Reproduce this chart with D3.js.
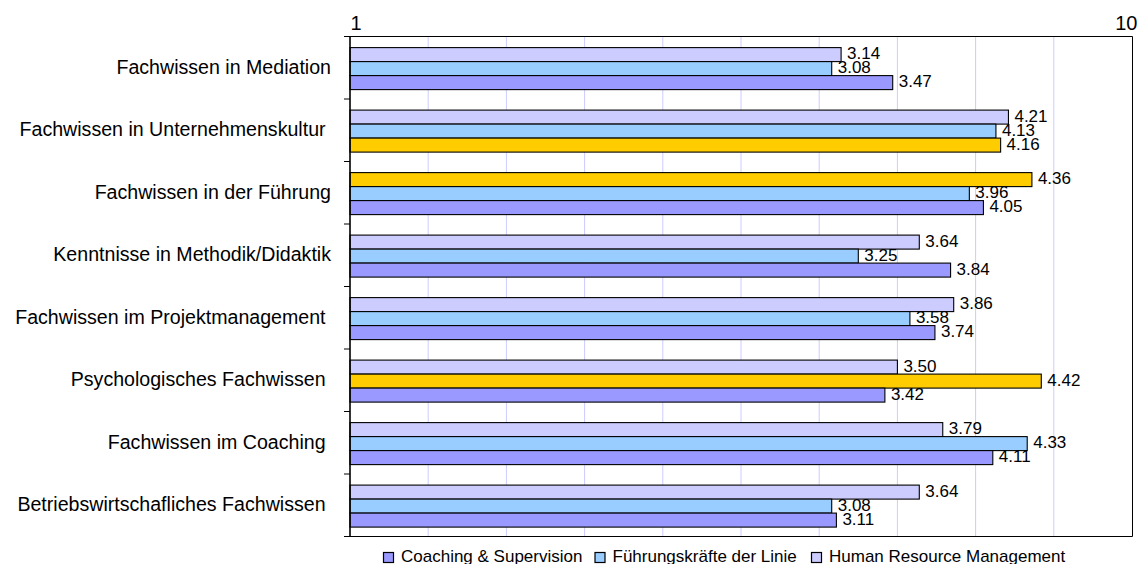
<!DOCTYPE html>
<html>
<head>
<meta charset="utf-8">
<script src="https://cdn.jsdelivr.net/npm/d3@7"></script>
<style>
  html, body { margin: 0; padding: 0; background: #fff; }
  svg { display: block; }
  text { font-family: "Liberation Sans", Arial, sans-serif; fill: #000; white-space: pre; }
</style>
</head>
<body>
<svg id="chart" width="1143" height="564"></svg>
<script>
// Competence areas, listed top to bottom (trailing spaces kept as in the source labels)
const categories = [
  "Fachwissen in Mediation",
  "Fachwissen in Unternehmenskultur ",
  "Fachwissen in der Führung",
  "Kenntnisse in Methodik/Didaktik",
  "Fachwissen im Projektmanagement ",
  "Psychologisches Fachwissen ",
  "Fachwissen im Coaching ",
  "Betriebswirtschafliches Fachwissen "
];

// Series in legend order
const seriesNames = ["Coaching & Supervision", "Führungskräfte der Linie", "Human Resource Management"];
const seriesColors = ["#9999FF", "#99CCFF", "#CCCCFF"];

// Mean ratings per category for each series
const coachingSupervision = [3.47, 4.16, 4.05, 3.84, 3.74, 3.42, 4.11, 3.11];
const fuehrungskraefte   = [3.08, 4.13, 3.96, 3.25, 3.58, 4.42, 4.33, 3.08];
const humanResource      = [3.14, 4.21, 4.36, 3.64, 3.86, 3.50, 3.79, 3.64];

// Highlighted bars: [category index, series index]
const highlighted = [[1, 0], [2, 2], [5, 1]];
const highlightColor = "#FFCC00";

// Axis scale and its end labels
const axisDomain = [0, 5];
const gridStep = 0.5;
const axisEndLabels = ["1", "10"];

const svg = d3.select("#chart");
const margin = { left: 350, right: 1143 - 1132, top: 36, bottom: 564 - 536 };
const W = 1143, H = 564;
const plotW = W - margin.left - margin.right;
const plotH = H - margin.top - margin.bottom;

const x = d3.scaleLinear().domain(axisDomain).range([margin.left, margin.left + plotW]);
const y = d3.scaleBand().domain(categories).range([margin.top, margin.top + plotH]).padding(0);

// Within each category: HRM on top, then Führungskräfte, then Coaching & Supervision
const stackOrder = [2, 1, 0];
const inner = d3.scaleBand().domain(stackOrder).range([11.6, 53.6]).padding(0);

const seriesValues = [coachingSupervision, fuehrungskraefte, humanResource];

// Vertical gridlines
const gridVals = d3.range(axisDomain[0] + gridStep, axisDomain[1] - 1e-9, gridStep);
svg.append("g").selectAll("line").data(gridVals).join("line")
  .attr("x1", d => x(d)).attr("x2", d => x(d))
  .attr("y1", margin.top).attr("y2", margin.top + plotH)
  .attr("stroke", "#CCCCFF").attr("stroke-width", 1);

// Plot frame (top, right, bottom)
const frame = svg.append("g").attr("stroke", "#000").attr("stroke-width", 1).attr("fill", "none");
frame.append("path")
  .attr("d", `M${x(axisDomain[0])},${margin.top + 0.5}H${x(axisDomain[1]) + 0.5}V${margin.top + plotH + 0.5}H${x(axisDomain[0])}`);

// Bars
const barData = [];
categories.forEach((c, ci) => {
  stackOrder.forEach(si => {
    barData.push({ c, ci, si, v: seriesValues[si][ci] });
  });
});
const isHi = d => highlighted.some(h => h[0] === d.ci && h[1] === d.si);

svg.append("g").selectAll("rect").data(barData).join("rect")
  .attr("x", x(0))
  .attr("y", d => y(d.c) + inner(d.si))
  .attr("width", d => x(d.v) - x(0))
  .attr("height", inner.bandwidth())
  .attr("fill", d => isHi(d) ? highlightColor : seriesColors[d.si])
  .attr("stroke", "#000").attr("stroke-width", 1.1);

// Value labels
svg.append("g").selectAll("text").data(barData).join("text")
  .attr("x", d => x(d.v) + 6)
  .attr("y", d => y(d.c) + inner(d.si) + inner.bandwidth() / 2 + 4.8)
  .attr("font-size", 17)
  .text(d => d.v.toFixed(2));

// Category axis (left) with ticks at category boundaries
const leftAxis = svg.append("g");
leftAxis.append("line")
  .attr("x1", x(0)).attr("x2", x(0))
  .attr("y1", margin.top).attr("y2", margin.top + plotH + 0.5)
  .attr("stroke", "#000").attr("stroke-width", 1.6);
const boundaries = categories.map(c => y(c)).concat([margin.top + plotH]);
leftAxis.selectAll("line.tick").data(boundaries).join("line")
  .attr("class", "tick")
  .attr("x1", x(0) - 6).attr("x2", x(0))
  .attr("y1", d => d + 0.5).attr("y2", d => d + 0.5)
  .attr("stroke", "#000").attr("stroke-width", 1);
leftAxis.selectAll("text").data(categories).join("text")
  .attr("x", 331)
  .attr("y", d => y(d) + y.bandwidth() / 2 + 6.3)
  .attr("text-anchor", "end")
  .attr("font-size", 19.6)
  .text(d => d);

// Axis end labels above the plot
svg.append("text")
  .attr("x", x(axisDomain[0]) + 0.5).attr("y", 29.5)
  .attr("font-size", 20).attr("text-anchor", "start")
  .text(axisEndLabels[0]);
svg.append("text")
  .attr("x", x(axisDomain[1]) + 5.5).attr("y", 29.5)
  .attr("font-size", 20).attr("text-anchor", "end")
  .text(axisEndLabels[1]);

// Legend
const legendX = [383.5, 595, 811.5];
const legend = svg.append("g");
seriesNames.forEach((name, i) => {
  legend.append("rect")
    .attr("x", legendX[i]).attr("y", 552.5)
    .attr("width", 10).attr("height", 10)
    .attr("fill", seriesColors[i])
    .attr("stroke", "#000").attr("stroke-width", 1.2);
  legend.append("text")
    .attr("x", legendX[i] + 17.5).attr("y", 561.5)
    .attr("font-size", 17)
    .text(name);
});
</script>
</body>
</html>
